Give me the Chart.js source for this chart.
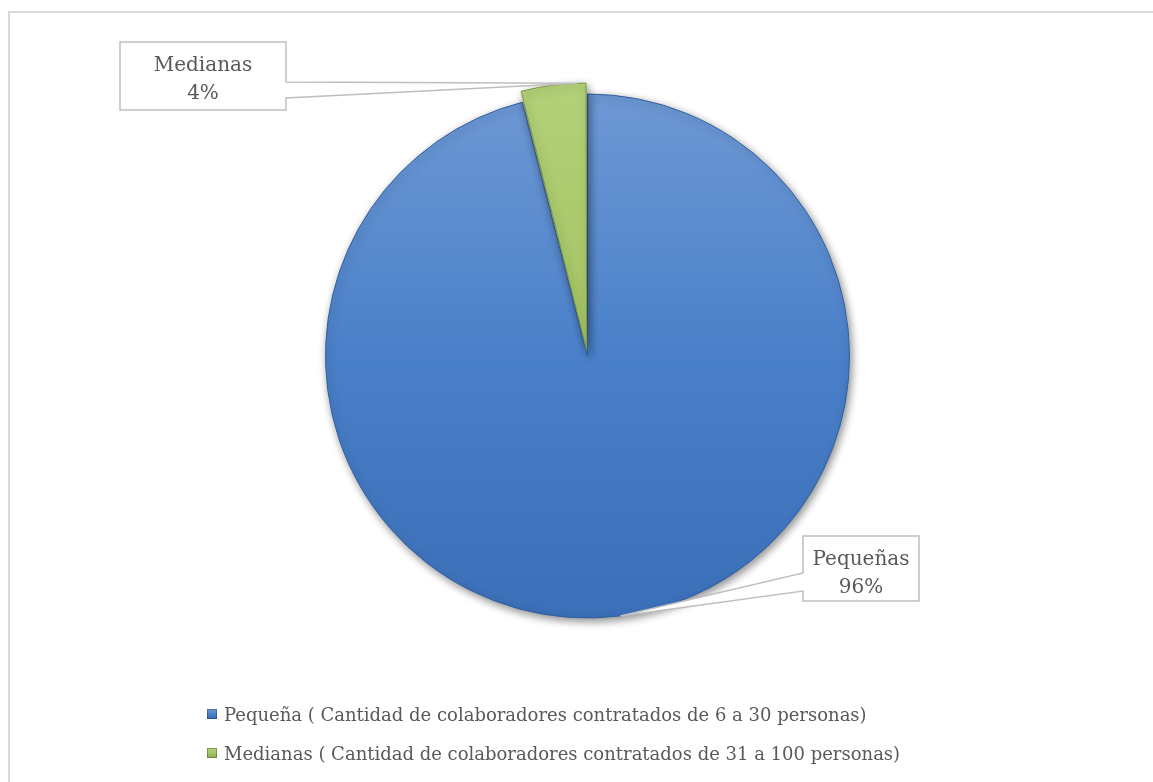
<!DOCTYPE html>
<html>
<head>
<meta charset="utf-8">
<script src="https://cdn.jsdelivr.net/npm/chart.js@4.4.0/dist/chart.umd.min.js"></script>
<style>
  html, body { margin: 0; padding: 0; background: #ffffff; overflow: hidden; }
  #frame { position: absolute; left: 8px; top: 11px; width: 1300px; height: 900px;
           border-left: 2px solid #d9d9d9; border-top: 2px solid #d9d9d9; }
  #c { position: absolute; left: 0; top: 0; }
</style>
</head>
<body>
<div id="frame"></div>
<canvas id="c" width="1153" height="782"></canvas>
<script>
// ---- data ----
const categories = [
  'Pequeña ( Cantidad de colaboradores contratados de 6 a 30 personas)',
  'Medianas ( Cantidad de colaboradores contratados de 31 a 100 personas)'
];
const shortNames = ['Pequeñas', 'Medianas'];
const values = [96, 4];

// ---- styles ----
const FONT = '20px "DejaVu Serif", "Liberation Serif", serif';
const LEGEND_FONT = '18px "DejaVu Serif", "Liberation Serif", serif';
const TEXT_COLOR = '#595959';
const gradStops = [
  ['#6d98d4', '#4a80c9', '#3b6fb8'],
  ['#b3d178', '#a3c463', '#8fb050']
];

function makeGradient(c, top, bottom, stops) {
  const g = c.createLinearGradient(0, top, 0, bottom);
  g.addColorStop(0, stops[0]);
  g.addColorStop(0.5, stops[1]);
  g.addColorStop(1, stops[2]);
  return g;
}

const shadowPlugin = {
  id: 'shadow',
  beforeDatasetsDraw(chart) {
    const c = chart.ctx;
    c.save();
    c.shadowColor = 'rgba(0,0,0,0.45)';
    c.shadowBlur = 9;
    c.shadowOffsetX = 2;
    c.shadowOffsetY = 3;
  },
  afterDatasetsDraw(chart) {
    chart.ctx.restore();
  }
};

// callout boxes (layout only)
const calloutBoxes = [
  { x: 803, y: 536, w: 116, h: 65, side: 'left', p1: 37, p2: 55, tipFrac: 0.5 },
  { x: 120, y: 42, w: 166, h: 68, side: 'right', p1: 40, p2: 56, tipFrac: 0.86 }
];

function arcTip(arc, frac) {
  const p = arc.getProps(['x', 'y', 'startAngle', 'endAngle', 'outerRadius', 'circumference']);
  const off = (arc.options.offset || 0) / 4;
  const half = (p.startAngle + p.endAngle) / 2;
  const fix = 1 - Math.sin(Math.min(Math.PI, p.circumference || 0));
  const total = off + off * fix;
  const cx = p.x + Math.cos(half) * total;
  const cy = p.y + Math.sin(half) * total;
  const a = p.startAngle + (p.endAngle - p.startAngle) * frac;
  return { x: cx + Math.cos(a) * p.outerRadius, y: cy + Math.sin(a) * p.outerRadius };
}

const calloutPlugin = {
  id: 'callouts',
  afterDatasetsDraw(chart) {
    const c = chart.ctx;
    const meta = chart.getDatasetMeta(0);
    const total = values.reduce((s, v) => s + v, 0);
    meta.data.forEach((arc, i) => {
      const b = calloutBoxes[i];
      const tip = arcTip(arc, b.tipFrac);
      c.save();
      c.beginPath();
      if (b.side === 'right') {
        c.moveTo(b.x, b.y);
        c.lineTo(b.x + b.w, b.y);
        c.lineTo(b.x + b.w, b.y + b.p1);
        c.lineTo(tip.x, tip.y);
        c.lineTo(b.x + b.w, b.y + b.p2);
        c.lineTo(b.x + b.w, b.y + b.h);
        c.lineTo(b.x, b.y + b.h);
      } else {
        c.moveTo(b.x, b.y);
        c.lineTo(b.x + b.w, b.y);
        c.lineTo(b.x + b.w, b.y + b.h);
        c.lineTo(b.x, b.y + b.h);
        c.lineTo(b.x, b.y + b.p2);
        c.lineTo(tip.x, tip.y);
        c.lineTo(b.x, b.y + b.p1);
      }
      c.closePath();
      c.fillStyle = '#ffffff';
      c.fill();
      c.lineWidth = 1.5;
      c.strokeStyle = '#bfbfbf';
      c.lineJoin = 'miter';
      c.stroke();
      c.font = FONT;
      c.fillStyle = TEXT_COLOR;
      c.textAlign = 'center';
      c.textBaseline = 'alphabetic';
      const cx = b.x + b.w / 2;
      const pct = Math.round(values[i] / total * 100) + '%';
      c.fillText(shortNames[i], cx, b.y + 29);
      c.fillText(pct, cx, b.y + 57);
      c.restore();
    });
  }
};

const legendPlugin = {
  id: 'customLegend',
  afterDraw(chart) {
    const c = chart.ctx;
    c.save();
    c.font = LEGEND_FONT;
    c.textAlign = 'left';
    c.textBaseline = 'alphabetic';
    categories.forEach((label, i) => {
      const y = 709 + i * 39;
      c.fillStyle = makeGradient(c, y, y + 10, gradStops[i]);
      c.fillRect(207, y, 10, 10);
      c.strokeStyle = 'rgba(0,0,0,0.25)';
      c.lineWidth = 1;
      c.strokeRect(207.5, y + 0.5, 9, 9);
      c.fillStyle = TEXT_COLOR;
      c.fillText(label, 224, y + 12);
    });
    c.restore();
  }
};

new Chart(document.getElementById('c'), {
  type: 'pie',
  data: {
    labels: categories,
    datasets: [{
      data: values,
      backgroundColor: (ctx) => {
        const chart = ctx.chart;
        const area = chart.chartArea;
        const i = ctx.dataIndex;
        if (!area) return gradStops[i][1];
        return makeGradient(chart.ctx, 94, 618, gradStops[i]);
      },
      borderColor: ['#2f5f9f', '#7a9a3e'],
      borderWidth: [1, 1],
      offset: [0, 25]
    }]
  },
  options: {
    responsive: false,
    animation: false,
    events: [],
    radius: 262,
    layout: { padding: { left: 22, right: 0, top: 10, bottom: 80 } },
    plugins: {
      legend: { display: false },
      tooltip: { enabled: false }
    }
  },
  plugins: [shadowPlugin, calloutPlugin, legendPlugin]
});
</script>
</body>
</html>
